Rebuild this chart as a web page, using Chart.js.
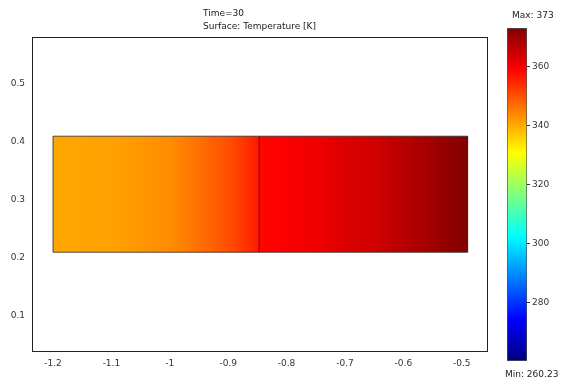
<!DOCTYPE html>
<html>
<head>
<meta charset="utf-8">
<script src="https://cdn.jsdelivr.net/npm/chart.js@4.4.1/dist/chart.umd.min.js"></script>
<style>
  body { margin: 0; background: #fff; width: 561px; height: 385px; position: relative; overflow: hidden;
         font-family: "DejaVu Sans", sans-serif; font-size: 9px; color: #222; }
  canvas { position: absolute; }
  #plot { left: 0; top: 0; }
  #bar { left: 500px; top: 28px; }
  .lbl { position: absolute; white-space: nowrap; line-height: 13px; }
</style>
</head>
<body>
<canvas id="plot" width="561" height="385"></canvas>
<canvas id="bar" width="61" height="333"></canvas>
<div class="lbl" style="left:203px;top:7px">Time=30<br>Surface: Temperature [K]</div>
<div class="lbl" style="left:512px;top:9px">Max: 373</div>
<div class="lbl" style="left:505px;top:368px">Min: 260.23</div>
<script>
const xTicks = [-1.2, -1.1, -1, -0.9, -0.8, -0.7, -0.6, -0.5];
const yTicks = [0.1, 0.2, 0.3, 0.4, 0.5];
const barTicks = [280, 300, 320, 340, 360];

// temperature (x position -> K)
const sampleX = [-1.2, -1.1, -1.0, -0.95, -0.9, -0.86, -0.848, -0.846, -0.8, -0.75, -0.7, -0.65, -0.6, -0.55, -0.49];
const sampleT = [340.5, 341.1, 343.4, 346.5, 350.2, 354.4, 356.4, 358.4, 359.5, 360.6, 362.9, 364, 366.8, 369.3, 373];

const rectX = [-1.2, -0.49];
const rectY = [0.21, 0.41];
const interfaceX = -0.847;
const tMin = 260.23;
const tMax = 373;

function jet(t) {
  const c = (v) => Math.round(255 * Math.max(0, Math.min(1, v)));
  return `rgb(${c(1.5 - Math.abs(4 * t - 3))},${c(1.5 - Math.abs(4 * t - 2))},${c(1.5 - Math.abs(4 * t - 1))})`;
}
const tempColor = (T) => jet((T - tMin) / (tMax - tMin));

const tickFont = { family: 'DejaVu Sans', size: 9 };
const fixTicks = (list) => (scale) => { scale.ticks = list.map((value) => ({ value })); };

const framePlugin = {
  id: 'frame',
  afterDraw(chart) {
    const { ctx, chartArea: a } = chart;
    ctx.save();
    ctx.strokeStyle = '#222';
    ctx.lineWidth = 1;
    ctx.strokeRect(a.left + 0.5, a.top + 0.5, a.width - 1, a.height - 1);
    ctx.restore();
  }
};

function surfaceGradient(context) {
  const { chart } = context;
  if (!chart.chartArea) return null;
  const xs = chart.scales.x;
  const x0 = xs.getPixelForValue(sampleX[0]);
  const x1 = xs.getPixelForValue(sampleX[sampleX.length - 1]);
  const g = chart.ctx.createLinearGradient(x0, 0, x1, 0);
  sampleX.forEach((x, i) => {
    g.addColorStop((xs.getPixelForValue(x) - x0) / (x1 - x0), tempColor(sampleT[i]));
  });
  return g;
}

new Chart(document.getElementById('plot'), {
  type: 'line',
  data: {
    datasets: [
      {
        data: sampleX.map((x) => ({ x, y: rectY[1] })),
        fill: { value: rectY[0] },
        backgroundColor: surfaceGradient,
        borderWidth: 0,
        pointRadius: 0,
        order: 3
      },
      {
        data: [
          { x: rectX[0], y: rectY[0] }, { x: rectX[0], y: rectY[1] },
          { x: rectX[1], y: rectY[1] }, { x: rectX[1], y: rectY[0] },
          { x: rectX[0], y: rectY[0] }
        ],
        borderColor: 'rgba(40,40,40,0.8)',
        borderWidth: 1,
        pointRadius: 0,
        fill: false,
        order: 1
      },
      {
        data: [{ x: interfaceX, y: rectY[0] }, { x: interfaceX, y: rectY[1] }],
        borderColor: 'rgba(70,0,0,0.7)',
        borderWidth: 1,
        pointRadius: 0,
        fill: false,
        order: 2
      }
    ]
  },
  options: {
    responsive: false,
    animation: false,
    layout: { padding: { top: 37, right: 73, left: 0, bottom: 0 } },
    plugins: { legend: { display: false }, tooltip: { enabled: false } },
    scales: {
      x: {
        type: 'linear', min: -1.236, max: -0.455,
        afterBuildTicks: fixTicks(xTicks),
        afterFit: (s) => { s.height = 33; },
        grid: { display: false, drawTicks: false }, border: { display: false },
        ticks: { font: tickFont, color: '#333', padding: 6, maxRotation: 0, callback: (v) => String(+v.toFixed(2)) }
      },
      y: {
        type: 'linear', min: 0.038, max: 0.581,
        afterBuildTicks: fixTicks(yTicks),
        afterFit: (s) => { s.width = 32; },
        grid: { display: false, drawTicks: false }, border: { display: false },
        ticks: { font: tickFont, color: '#333', padding: 7, callback: (v) => String(+v.toFixed(2)) }
      }
    }
  },
  plugins: [framePlugin]
});

function barGradient(context) {
  const { chart } = context;
  if (!chart.chartArea) return null;
  const ys = chart.scales.y;
  const g = chart.ctx.createLinearGradient(0, ys.getPixelForValue(tMin), 0, ys.getPixelForValue(tMax));
  [0, 0.125, 0.375, 0.625, 0.875, 1].forEach((t) => g.addColorStop(t, jet(t)));
  return g;
}

new Chart(document.getElementById('bar'), {
  type: 'bar',
  data: {
    labels: ['T'],
    datasets: [{
      data: [[tMin, tMax]],
      backgroundColor: barGradient,
      borderColor: 'rgba(40,40,40,0.8)',
      borderWidth: 1,
      borderSkipped: false,
      barPercentage: 1,
      categoryPercentage: 1
    }]
  },
  options: {
    responsive: false,
    animation: false,
    layout: { padding: { left: 7, top: 0, bottom: 0, right: 0 } },
    plugins: { legend: { display: false }, tooltip: { enabled: false } },
    scales: {
      x: { display: false },
      y: {
        position: 'right', min: tMin, max: tMax,
        afterBuildTicks: fixTicks(barTicks),
        afterFit: (s) => { s.width = 34; s.paddingTop = 0; s.paddingBottom = 0; },
        border: { display: false },
        grid: { drawOnChartArea: false, tickLength: 3, color: '#333' },
        ticks: { font: tickFont, color: '#333', padding: 2 }
      }
    }
  }
});
</script>
</body>
</html>
